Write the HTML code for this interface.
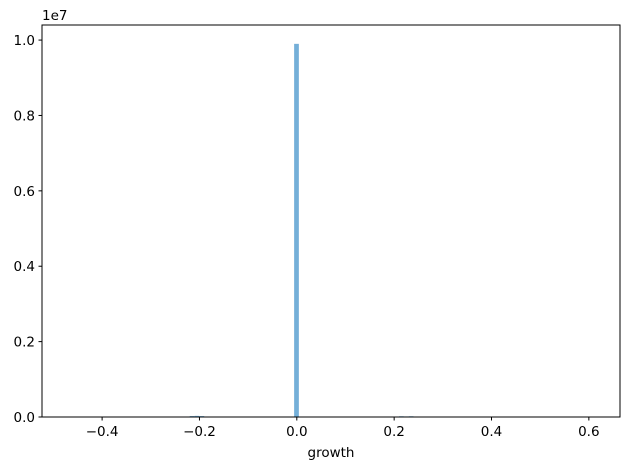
<!DOCTYPE html>
<html><head><meta charset="utf-8"><style>
html,body{margin:0;padding:0;background:#fff;width:630px;height:470px;overflow:hidden}
text{font-family:"DejaVu Sans","Liberation Sans",sans-serif;font-size:13.5px;fill:#000}
</style></head><body>
<svg id="chart" width="630" height="470" xmlns="http://www.w3.org/2000/svg"></svg>
<script>
const binLefts = [-0.22, -0.21, -0.20, -0.0055, 0.21, 0.22, 0.23];
const binWidths = [0.0097, 0.0097, 0.0097, 0.0097, 0.0097, 0.0097, 0.0097];
const counts = [25000, 30000, 25000, 9900000, 20000, 15000, 20000];
const xTicks = [-0.4, -0.2, 0.0, 0.2, 0.4, 0.6];
const xTickLabels = ["\u22120.4", "\u22120.2", "0.0", "0.2", "0.4", "0.6"];
const yTicks = [0, 2e6, 4e6, 6e6, 8e6, 1e7];
const yTickLabels = ["0.0", "0.2", "0.4", "0.6", "0.8", "1.0"];

const L = 42, R = 620, T = 25, B = 417;
const xMin = -0.5235, xMax = 0.664, yMin = 0, yMax = 1.04e7;
const sx = v => L + (v - xMin) / (xMax - xMin) * (R - L);
const sy = v => B - (v - yMin) / (yMax - yMin) * (B - T);
const svg = document.getElementById('chart');
const NS = 'http://www.w3.org/2000/svg';
function mk(tag, attrs, parent) {
  const e = document.createElementNS(NS, tag);
  for (const k in attrs) e.setAttribute(k, attrs[k]);
  (parent || svg).appendChild(e);
  return e;
}
const bars = mk('g', {});


counts.forEach((c, i) => {
  const x0 = sx(binLefts[i]), x1 = sx(binLefts[i] + binWidths[i]);
  const r = mk('rect', {x: x0, y: sy(c), width: x1 - x0, height: B - sy(c), fill: '#74afd8'}, bars);
  
  
});
const frame = mk('rect', {x: L, y: T, width: R - L, height: B - T, fill: 'none', stroke: '#000', 'stroke-width': 1});


xTicks.forEach((v, i) => {
  const x = sx(v);
  mk('line', {x1: x, x2: x, y1: B, y2: B + 3.5, stroke: '#000'});
  const t = mk('text', {x: x, y: B + 19, 'text-anchor': 'middle'});
  t.textContent = xTickLabels[i];
  
  
});
yTicks.forEach((v, i) => {
  const y = sy(v);
  mk('line', {x1: L - 3.5, x2: L, y1: y, y2: y, stroke: '#000'});
  const t = mk('text', {x: L - 7, y: y + 5, 'text-anchor': 'end'});
  t.textContent = yTickLabels[i];
  
  
});
const off = mk('text', {x: L, y: T - 5});
off.textContent = '1e7';


const xl = mk('text', {x: (L + R) / 2, y: 457, 'text-anchor': 'middle'});
xl.textContent = 'growth';


</script>
</body></html>
